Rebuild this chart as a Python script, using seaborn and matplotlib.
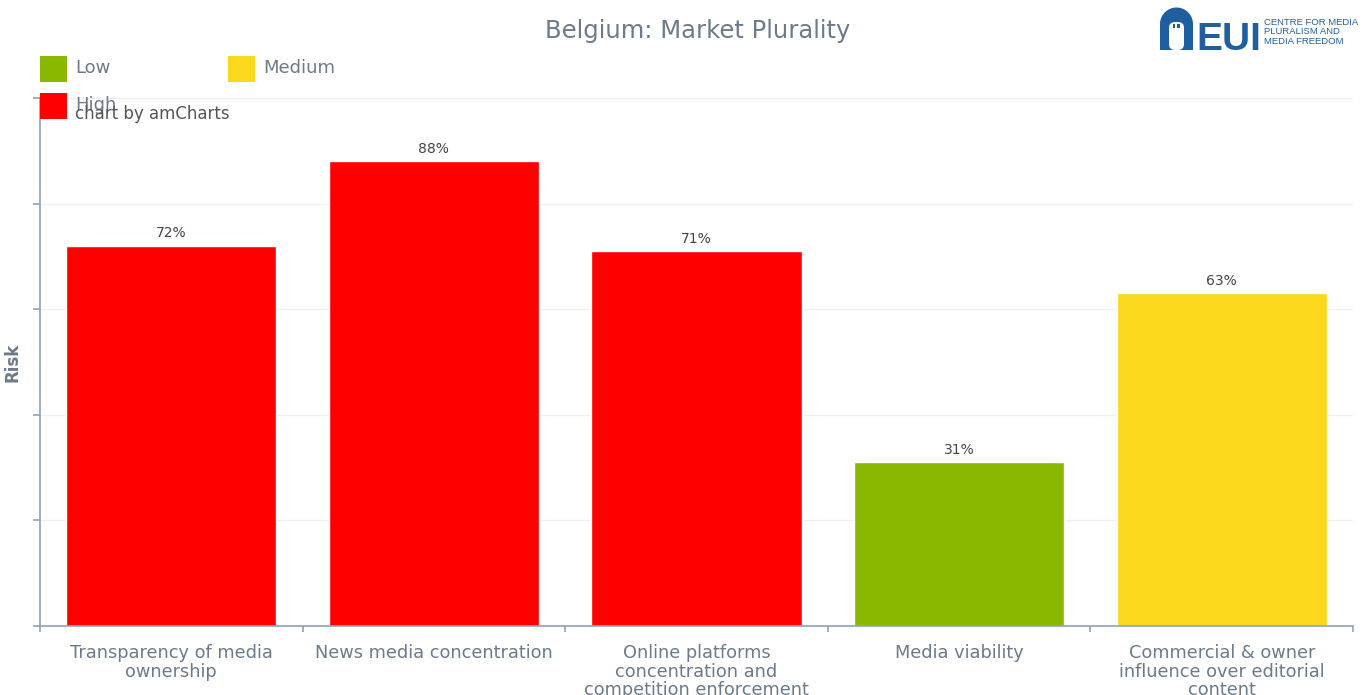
import matplotlib
matplotlib.use("Agg")
import matplotlib.pyplot as plt
from matplotlib.patches import Rectangle, FancyBboxPatch, Wedge
import seaborn as sns

# Indicator scores for Belgium, market plurality area
categories = [
    "Transparency of media\nownership",
    "News media concentration",
    "Online platforms\nconcentration and\ncompetition enforcement",
    "Media viability",
    "Commercial & owner\ninfluence over editorial\ncontent",
]
risk_values = [72, 88, 71, 31, 63]
risk_levels = ["High", "High", "High", "Low", "Medium"]

level_names = ["Low", "Medium", "High"]
level_colors = {"Low": "#8ab800", "Medium": "#fbd81b", "High": "#ff0000"}

W, H = 1367, 695
sns.set_theme(style="white")
plt.rcParams["font.family"] = ["DejaVu Sans"]

TEXT = "#6c7a89"
AXIS = "#8da2b4"


def fig_xy(x, y):
    """Pixel position (from top-left) to figure fraction."""
    return x / W, 1 - y / H


fig = plt.figure(figsize=(W / 100, H / 100), dpi=100)
ax = fig.add_axes([40 / W, 69 / H, (1353 - 40) / W, (626 - 98) / H])

bar_palette = [level_colors[l] for l in risk_levels]
sns.barplot(x=categories, y=risk_values, hue=categories, palette=bar_palette,
            width=0.8, saturation=1, legend=False, ax=ax)

ax.set_ylim(0, 100)
ax.set_xlim(-0.5, len(categories) - 0.5)
ax.set_yticks(range(0, 101, 20))
ax.set_yticklabels([])
ax.yaxis.grid(True, color="#f0f0f0", linewidth=1)
ax.set_axisbelow(True)

for side in ("top", "right"):
    ax.spines[side].set_visible(False)
for side in ("left", "bottom"):
    ax.spines[side].set_color(AXIS)
    ax.spines[side].set_linewidth(1.2)

ax.tick_params(axis="y", which="major", left=True, length=5, width=1.2, color=AXIS)
ax.tick_params(axis="x", which="major", bottom=False, pad=7,
               labelsize=12.8, labelcolor=TEXT)
ax.set_xticks([i - 0.5 for i in range(len(categories) + 1)], minor=True)
ax.tick_params(axis="x", which="minor", bottom=True, length=4.5, width=1.2,
               color=AXIS, direction="out")
for lbl in ax.get_xticklabels():
    lbl.set_linespacing(1.05)

ax.set_xlabel("")
ax.set_ylabel("Risk", fontsize=12, fontweight="bold", color=TEXT, labelpad=5)

for cont in ax.containers:
    ax.bar_label(cont, labels=[f"{v:.0f}%" for v in cont.datavalues],
                 padding=4, fontsize=10, color="#444444")

fig.text(698 / W, 1 - 31 / H, "Belgium: Market Plurality", ha="center", va="center",
         fontsize=17.5, color=TEXT)

# Legend swatches and labels
legend_pos = {"Low": (40, 56), "Medium": (228, 56), "High": (40, 93)}
for name in level_names:
    x0, y0 = legend_pos[name]
    fx, fy = fig_xy(x0, y0 + 26)
    fig.add_artist(Rectangle((fx, fy), 27 / W, 26 / H, transform=fig.transFigure,
                             facecolor=level_colors[name], edgecolor="none"))
    tx, ty = fig_xy(x0 + 35, y0 + 12)
    fig.text(tx, ty, name, ha="left", va="center", fontsize=13, color=TEXT)

cx, cy = fig_xy(75, 114)
fig.text(cx, cy, "chart by amCharts", ha="left", va="center", fontsize=12,
         color="#555555")

# EUI logo drawn in its own pixel-unit axes (y grows downward)
BLUE = "#1f5f9f"
L0, L1, T0, T1 = 1155, 1367, 0, 56
logo = fig.add_axes([L0 / W, 1 - T1 / H, (L1 - L0) / W, (T1 - T0) / H])
logo.set_xlim(L0, L1)
logo.set_ylim(T1, T0)
logo.axis("off")
# arch: rectangle body with a half-disc on top, a white door and two windows
logo.add_patch(Rectangle((1160, 24), 33, 26, facecolor=BLUE, edgecolor="none"))
logo.add_patch(Wedge((1176.5, 24), 16.5, 180, 360, facecolor=BLUE, edgecolor="none"))
logo.add_patch(FancyBboxPatch((1169, 22), 15, 28, boxstyle="round,pad=0,rounding_size=6",
                              facecolor="white", edgecolor="none"))
for wx in (1172.5, 1177):
    logo.add_patch(Rectangle((wx, 24), 2.5, 3.5, facecolor=BLUE, edgecolor="none"))
logo.text(1196, 50, "EUI", ha="left", va="baseline", fontsize=28, fontweight="bold",
          color=BLUE, family=["Liberation Sans", "DejaVu Sans"])
logo.text(1264, 32, "CENTRE FOR MEDIA\nPLURALISM AND\nMEDIA FREEDOM", ha="left",
          va="center", fontsize=6.8, color=BLUE, linespacing=1.1,
          family=["Liberation Sans", "DejaVu Sans"])

fig.savefig("out.png", dpi=100, facecolor="white")
